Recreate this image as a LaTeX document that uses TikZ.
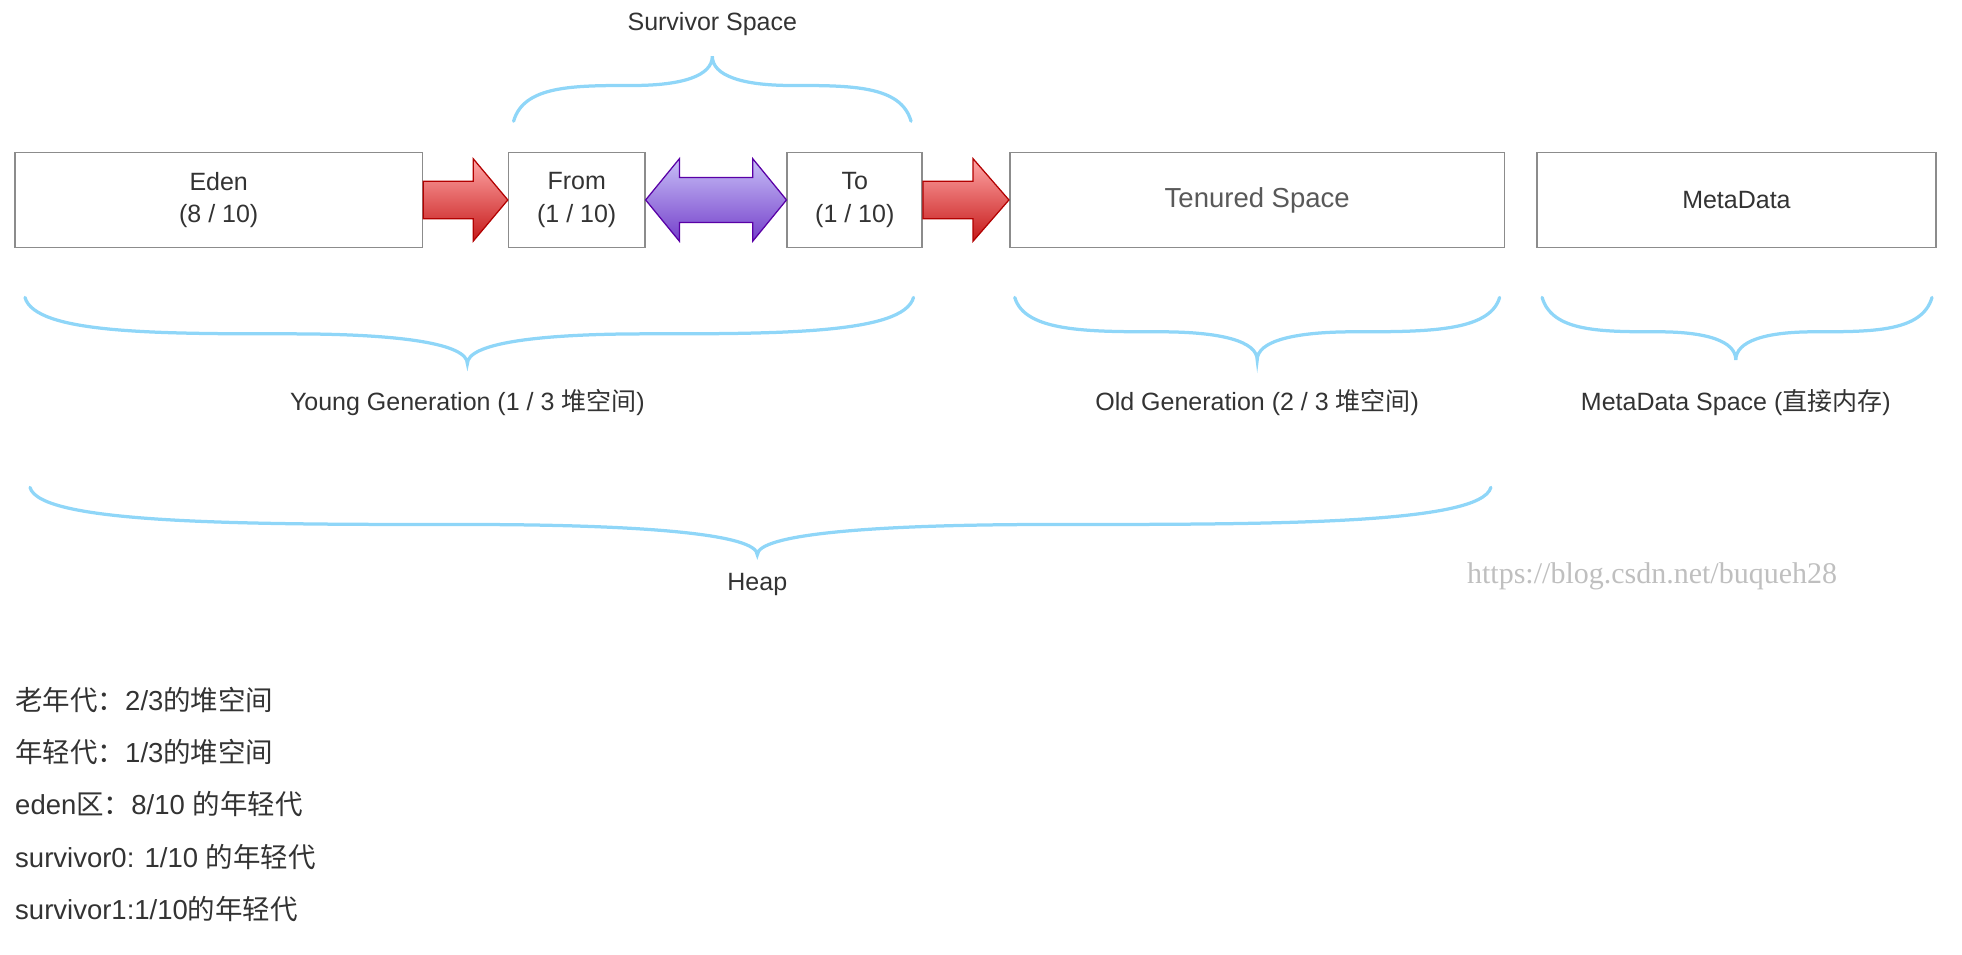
\documentclass[tikz,border=0pt]{standalone}
\usepackage{fontspec}
\setmainfont{Liberation Sans}
\newfontfamily\cjk{Noto Sans CJK SC}
\newfontfamily\wm{Liberation Serif}
\usetikzlibrary{calc}
\definecolor{brc}{HTML}{8FD6F8}
\definecolor{txt}{HTML}{333333}
\tikzset{
 box/.style={draw=black!45,line width=1.3,fill=white,text=txt,font=\fontsize{20}{26}\selectfont,align=center,minimum height=76,inner sep=0},
 br/.style={draw=brc,line width=2.6,line cap=round},
 lbl/.style={text=txt,font=\fontsize{20}{24}\selectfont},
 redar/.style={draw=red!70!black,line width=1,top color=red!35!white,bottom color=red!75!black!90,line join=miter},
 purar/.style={draw=violet!70!blue,line width=1,top color=violet!25!blue!25,bottom color=violet!55!blue!75,line join=miter},
}
\newcommand\mybrace[5]{% a m c t b
 \draw[br] (#1,#4) .. controls (#1+8,{#4+0.55*(#5-#4)}) and ({#1+0.3*(#2-#1)},{#4+0.55*(#5-#4)}) .. ({#1+0.6*(#2-#1)},{#4+0.55*(#5-#4)})
  .. controls ({#2-0.15*(#2-#1)},{#4+0.55*(#5-#4)}) and (#2,{#5-0.3*(#5-#4)}) .. (#2,#5)
  .. controls (#2,{#5-0.3*(#5-#4)}) and ({#2+0.15*(#3-#2)},{#4+0.55*(#5-#4)}) .. ({#2+0.4*(#3-#2)},{#4+0.55*(#5-#4)})
  .. controls ({#3-0.3*(#3-#2)},{#4+0.55*(#5-#4)}) and (#3-8,{#4+0.55*(#5-#4)}) .. (#3,#4);}
\begin{document}
\begin{tikzpicture}[x=1pt,y=-1pt]
\useasboundingbox (0,0) rectangle (1570,764);
\node[box,minimum width=326] (eden) at (175,160) {Eden\\(8 / 10)};
\node[box,minimum width=109] (from) at (461.5,160) {From\\(1 / 10)};
\node[box,minimum width=108] (to) at (684,160) {To\\(1 / 10)};
\node[box,minimum width=396,text=black!65,font=\fontsize{22}{26}\selectfont] (ten) at (1006,160) {Tenured Space};
\node[box,minimum width=319] (meta) at (1389.5,160) {MetaData};
% red arrows
\draw[redar] ($(eden.east)+(0,-15)$) -- ($(eden.east)+(40,-15)$) -- ($(eden.east)+(40,-33)$) -- (from.west) -- ($(eden.east)+(40,33)$) -- ($(eden.east)+(40,15)$) -- ($(eden.east)+(0,15)$) -- cycle;
\draw[redar] ($(to.east)+(0,-15)$) -- ($(to.east)+(40,-15)$) -- ($(to.east)+(40,-33)$) -- (ten.west) -- ($(to.east)+(40,33)$) -- ($(to.east)+(40,15)$) -- ($(to.east)+(0,15)$) -- cycle;
% purple double arrow
\draw[purar] (from.east) -- ($(from.east)+(27,-33)$) -- ($(from.east)+(27,-18)$) -- ($(to.west)+(-27,-18)$) -- ($(to.west)+(-27,-33)$) -- (to.west) -- ($(to.west)+(-27,33)$) -- ($(to.west)+(-27,18)$) -- ($(from.east)+(27,18)$) -- ($(from.east)+(27,33)$) -- cycle;
% braces
\mybrace{411}{570}{729}{97}{45}
\mybrace{20}{374}{731}{238}{291}
\mybrace{812}{1006}{1200}{238}{288}
\mybrace{1234}{1389}{1546}{238}{288}
\mybrace{24}{606}{1193}{390}{444}
\node[lbl] (ss) at (570,19) {Survivor Space};
\node[lbl] (yg) at (374,322) {Young Generation (1 / 3 {\cjk 堆空间})};
\node[lbl] (og) at (1006,322) {Old Generation (2 / 3 {\cjk 堆空间})};
\node[lbl] (ms) at (1389,322) {MetaData Space ({\cjk 直接内存})};
\node[lbl] (hp) at (606,468) {Heap};
\node[text=black!25,font=\wm\fontsize{24}{28}\selectfont] (wm) at (1322,461) {https://blog.csdn.net/buqueh28};
\begin{scope}[every node/.style={anchor=west,text=txt,font=\fontsize{22}{26}\selectfont,inner sep=0}]
\node (l1) at (12,560) {{\cjk 老年代：}2/3{\cjk 的堆空间}};
\node (l2) at (12,602) {{\cjk 年轻代：}1/3{\cjk 的堆空间}};
\node (l3) at (12,643) {eden{\cjk 区：}8/10 {\cjk 的年轻代}};
\node (l4) at (12,686) {survivor0: 1/10 {\cjk 的年轻代}};
\node (l5) at (12,727) {survivor1:1/10{\cjk 的年轻代}};
\end{scope}
\end{tikzpicture}
\end{document}
